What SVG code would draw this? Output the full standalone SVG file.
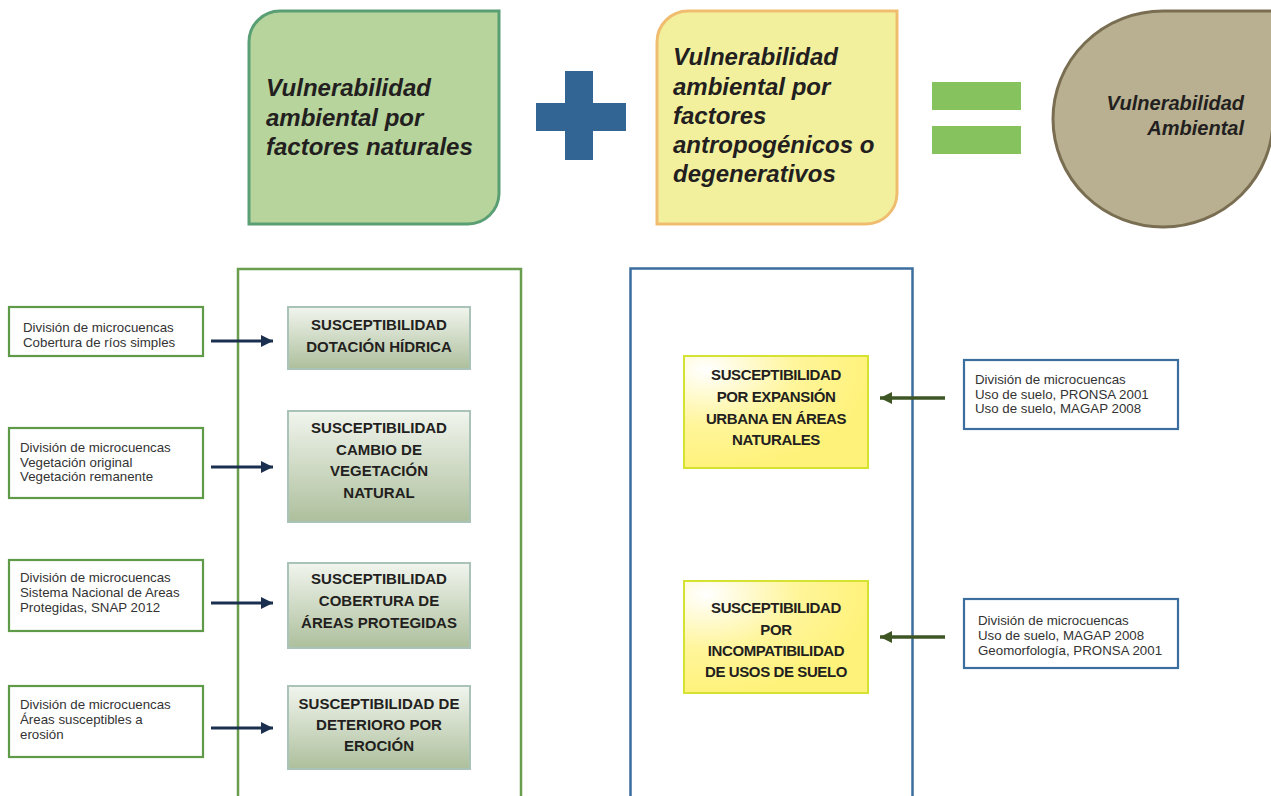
<svg xmlns="http://www.w3.org/2000/svg" width="1271" height="796" viewBox="0 0 1271 796">
<defs>
<linearGradient id="gGreen" x1="0" y1="0" x2="0" y2="1">
<stop offset="0" stop-color="#f1f5ee"/>
<stop offset="1" stop-color="#adbf9c"/>
</linearGradient>
<radialGradient id="gYellow" cx="0.12" cy="0.12" r="0.9">
<stop offset="0" stop-color="#ffffff"/>
<stop offset="0.55" stop-color="#fff59a"/>
<stop offset="1" stop-color="#fff27a"/>
</radialGradient>
<marker id="arrNavy" markerWidth="13" markerHeight="13" refX="12" refY="6.5" orient="auto" markerUnits="userSpaceOnUse">
<path d="M0,0.5 L12,6.5 L0,12.5 Z" fill="#1b2f4f"/>
</marker>
<marker id="arrOlive" markerWidth="13" markerHeight="13" refX="12" refY="6.5" orient="auto" markerUnits="userSpaceOnUse">
<path d="M0,0.5 L12,6.5 L0,12.5 Z" fill="#3e5524"/>
</marker>
</defs>
<style>
.big{font-family:"Liberation Sans",Arial,sans-serif;font-weight:bold;font-style:italic;font-size:24px;fill:#231f20}
.circ{font-family:"Liberation Sans",Arial,sans-serif;font-weight:bold;font-style:italic;font-size:20px;fill:#231f20;text-anchor:end}
.src{font-family:"Liberation Sans",Arial,sans-serif;font-size:13.3px;fill:#333333}
.srcG{fill:#ffffff;stroke:#5e9a48;stroke-width:2.2}
.srcB{fill:#ffffff;stroke:#3b6e9e;stroke-width:2.2}
.gbox{fill:url(#gGreen);stroke:#a9c3b8;stroke-width:2}
.ybox{fill:url(#gYellow);stroke:#d6e232;stroke-width:2}
.lbl{font-family:"Liberation Sans",Arial,sans-serif;font-weight:bold;font-size:15px;fill:#231f20;text-anchor:middle}
.lblY{font-family:"Liberation Sans",Arial,sans-serif;font-weight:bold;font-size:15px;fill:#231f20;text-anchor:middle;letter-spacing:-0.4px}
.cn{stroke:#1b2f4f;stroke-width:3;fill:none;marker-end:url(#arrNavy)}
.co{stroke:#3e5524;stroke-width:3.5;fill:none;marker-end:url(#arrOlive)}
</style>
<rect width="1271" height="796" fill="#ffffff"/>

<g id="containers">
<rect x="238" y="269" width="283" height="540" fill="none" stroke="#6a9e4e" stroke-width="2.5"/>
<rect x="630.5" y="268.5" width="282" height="540" fill="none" stroke="#3b6e9e" stroke-width="2.5"/>
</g>

<g id="natural">
<path d="M280,11 L499,11 L499,194 A31,31 0 0 1 468,224 L249,224 L249,42 A31,31 0 0 1 280,11 Z" fill="#b7d49c" stroke="#5a9e74" stroke-width="3"/>
<text class="big" x="266" y="96">Vulnerabilidad</text>
<text class="big" x="266" y="126">ambiental por</text>
<text class="big" x="266" y="155">factores naturales</text>
</g>

<g id="plus">
<rect x="565" y="71" width="28" height="89" fill="#336594"/>
<rect x="536" y="103" width="90" height="28" fill="#336594"/>
</g>

<g id="antropico">
<path d="M688,11 L897,11 L897,194 A31,31 0 0 1 866,224 L657,224 L657,42 A31,31 0 0 1 688,11 Z" fill="#f3f09d" stroke="#f0bd70" stroke-width="3"/>
<text class="big" x="673" y="65">Vulnerabilidad</text>
<text class="big" x="673" y="95">ambiental por</text>
<text class="big" x="673" y="124">factores</text>
<text class="big" x="673" y="153">antropogénicos o</text>
<text class="big" x="673" y="182">degenerativos</text>
</g>

<g id="equals">
<rect x="932" y="82" width="89" height="28" fill="#86c35f"/>
<rect x="932" y="126" width="89" height="28" fill="#86c35f"/>
</g>

<g id="resultado">
<path d="M1163,11 L1295,11 L1295,118 L1273,118 A110,108 0 1 1 1163,11 Z" fill="#b8b090" stroke="#7a6e52" stroke-width="3"/>
<text class="circ" x="1244" y="110">Vulnerabilidad</text>
<text class="circ" x="1244" y="135">Ambiental</text>
</g>

<g id="src1">
<rect class="srcG" x="9" y="307" width="194" height="49"/>
<text class="src" x="23" y="332">División de microcuencas</text>
<text class="src" x="23" y="347">Cobertura de ríos simples</text>
</g>
<g id="src2">
<rect class="srcG" x="9" y="428" width="194" height="70"/>
<text class="src" x="20" y="452">División de microcuencas</text>
<text class="src" x="20" y="467">Vegetación original</text>
<text class="src" x="20" y="481">Vegetación remanente</text>
</g>
<g id="src3">
<rect class="srcG" x="9" y="560" width="194" height="71"/>
<text class="src" x="20" y="582">División de microcuencas</text>
<text class="src" x="20" y="597">Sistema Nacional de Areas</text>
<text class="src" x="20" y="612">Protegidas, SNAP 2012</text>
</g>
<g id="src4">
<rect class="srcG" x="9" y="686" width="194" height="71"/>
<text class="src" x="20" y="709">División de microcuencas</text>
<text class="src" x="20" y="724">Áreas susceptibles a</text>
<text class="src" x="20" y="739">erosión</text>
</g>

<g id="susc1">
<rect class="gbox" x="288" y="307" width="182" height="62"/>
<text class="lbl" x="379" y="330">SUSCEPTIBILIDAD</text>
<text class="lbl" x="379" y="352">DOTACIÓN HÍDRICA</text>
</g>
<g id="susc2">
<rect class="gbox" x="288" y="411" width="182" height="111"/>
<text class="lbl" x="379" y="433">SUSCEPTIBILIDAD</text>
<text class="lbl" x="379" y="455">CAMBIO DE</text>
<text class="lbl" x="379" y="476">VEGETACIÓN</text>
<text class="lbl" x="379" y="498">NATURAL</text>
</g>
<g id="susc3">
<rect class="gbox" x="288" y="563" width="182" height="85"/>
<text class="lbl" x="379" y="584">SUSCEPTIBILIDAD</text>
<text class="lbl" x="379" y="606">COBERTURA DE</text>
<text class="lbl" x="379" y="628">ÁREAS PROTEGIDAS</text>
</g>
<g id="susc4">
<rect class="gbox" x="288" y="686" width="182" height="83"/>
<text class="lbl" x="379" y="709">SUSCEPTIBILIDAD DE</text>
<text class="lbl" x="379" y="730">DETERIORO POR</text>
<text class="lbl" x="379" y="751">EROCIÓN</text>
</g>

<g id="susc5">
<rect class="ybox" x="684" y="356" width="184" height="112"/>
<text class="lblY" x="776" y="380">SUSCEPTIBILIDAD</text>
<text class="lblY" x="776" y="402">POR EXPANSIÓN</text>
<text class="lblY" x="776" y="424">URBANA EN ÁREAS</text>
<text class="lblY" x="776" y="445">NATURALES</text>
</g>
<g id="susc6">
<rect class="ybox" x="684" y="581" width="184" height="112"/>
<text class="lblY" x="776" y="613">SUSCEPTIBILIDAD</text>
<text class="lblY" x="776" y="635">POR</text>
<text class="lblY" x="776" y="656">INCOMPATIBILIDAD</text>
<text class="lblY" x="776" y="677">DE USOS DE SUELO</text>
</g>

<g id="src5">
<rect class="srcB" x="964" y="360" width="214" height="69"/>
<text class="src" x="975" y="384">División de microcuencas</text>
<text class="src" x="975" y="399">Uso de suelo, PRONSA 2001</text>
<text class="src" x="975" y="413">Uso de suelo, MAGAP 2008</text>
</g>
<g id="src6">
<rect class="srcB" x="964" y="599" width="214" height="69"/>
<text class="src" x="978" y="625">División de microcuencas</text>
<text class="src" x="978" y="640">Uso de suelo, MAGAP 2008</text>
<text class="src" x="978" y="655">Geomorfología, PRONSA 2001</text>
</g>

<g id="connectors">
<line class="cn" x1="211" y1="341" x2="273" y2="341"/>
<line class="cn" x1="211" y1="467" x2="273" y2="467"/>
<line class="cn" x1="211" y1="603" x2="273" y2="603"/>
<line class="cn" x1="211" y1="728" x2="273" y2="728"/>
<line class="co" x1="945" y1="398" x2="880" y2="398"/>
<line class="co" x1="945" y1="637" x2="880" y2="637"/>
</g>
</svg>
